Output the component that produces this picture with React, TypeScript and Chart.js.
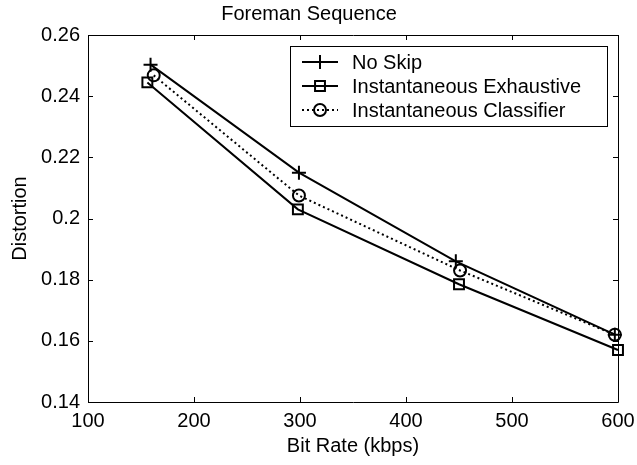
import React, { useEffect, useRef } from 'react';
import { Chart, registerables } from 'chart.js';

Chart.register(...registerables);

// ---- data ----
const seriesNames = ['No Skip', 'Instantaneous Exhaustive', 'Instantaneous Classifier'];
const bitRateNoSkip = [159, 299, 447, 597];
const distNoSkip = [0.2503, 0.215, 0.186, 0.162];
const bitRateExhaustive = [156, 298, 450, 600];
const distExhaustive = [0.2445, 0.203, 0.1785, 0.157];
const bitRateClassifier = [162, 299, 451, 597];
const distClassifier = [0.2468, 0.2075, 0.183, 0.162];
const xTicks = [100, 200, 300, 400, 500, 600];
const yTicks = [0.14, 0.16, 0.18, 0.2, 0.22, 0.24, 0.26];
const titleText = 'Foreman Sequence';
const xLabel = 'Bit Rate (kbps)';
const yLabel = 'Distortion';

const FONT = "'Liberation Sans', Arial, Helvetica, sans-serif";
const FS = 20;

const toPts = (xs: number[], ys: number[]) => xs.map((x, i) => ({ x, y: ys[i] }));

const framePlugin = {
  id: 'matlabFrame',
  afterDatasetsDraw(chart: any) {
    const { ctx, chartArea: a, scales } = chart;
    const xs = scales.x;
    const ys = scales.y;
    ctx.save();
    ctx.strokeStyle = '#000';
    ctx.lineWidth = 1;
    ctx.beginPath();
    ctx.rect(Math.round(a.left) + 0.5, Math.round(a.top) + 0.5, Math.round(a.right - a.left), Math.round(a.bottom - a.top));
    ctx.stroke();
    const tl = 5;
    ctx.beginPath();
    xs.ticks.forEach((t: any) => {
      const px = Math.round(xs.getPixelForValue(t.value)) + 0.5;
      ctx.moveTo(px, a.bottom);
      ctx.lineTo(px, a.bottom - tl);
      ctx.moveTo(px, a.top);
      ctx.lineTo(px, a.top + tl);
    });
    ys.ticks.forEach((t: any) => {
      const py = Math.round(ys.getPixelForValue(t.value)) + 0.5;
      ctx.moveTo(a.left, py);
      ctx.lineTo(a.left + tl, py);
      ctx.moveTo(a.right, py);
      ctx.lineTo(a.right - tl, py);
    });
    ctx.stroke();

    // legend
    const boxL = a.right - 328;
    const boxT = a.top + 11;
    const boxW = 317;
    const rowH = 24;
    const boxH = rowH * chart.data.datasets.length + 8;
    ctx.fillStyle = '#fff';
    ctx.fillRect(boxL, boxT, boxW, boxH);
    ctx.lineWidth = 1;
    ctx.strokeStyle = '#000';
    ctx.strokeRect(Math.round(boxL) + 0.5, Math.round(boxT) + 0.5, boxW, boxH);
    chart.data.datasets.forEach((ds: any, i: number) => {
      const cy = boxT + 16 + i * rowH;
      const x0 = boxL + 12;
      const x1 = boxL + 48;
      const cx = (x0 + x1) / 2;
      ctx.save();
      ctx.strokeStyle = '#000';
      ctx.lineWidth = ds.borderWidth;
      ctx.setLineDash(ds.borderDash || []);
      ctx.beginPath();
      ctx.moveTo(x0, cy);
      ctx.lineTo(x1, cy);
      ctx.stroke();
      ctx.setLineDash([]);
      ctx.lineWidth = ds.pointBorderWidth;
      const r = ds.pointRadius;
      ctx.beginPath();
      if (ds.pointStyle === 'cross') {
        ctx.moveTo(cx - r, cy);
        ctx.lineTo(cx + r, cy);
        ctx.moveTo(cx, cy - r);
        ctx.lineTo(cx, cy + r);
      } else if (ds.pointStyle === 'rect') {
        const s = Math.SQRT1_2 * r;
        ctx.rect(cx - s, cy - s, 2 * s, 2 * s);
      } else {
        ctx.arc(cx, cy, r, 0, Math.PI * 2);
      }
      ctx.stroke();
      ctx.restore();
      ctx.fillStyle = '#000';
      ctx.font = `${FS}px ${FONT}`;
      ctx.textBaseline = 'middle';
      ctx.textAlign = 'left';
      ctx.fillText(ds.label, boxL + 62, cy + 1);
    });
    ctx.restore();
  },
};

const bgPlugin = {
  id: 'whiteBg',
  beforeDraw(chart: any) {
    const { ctx, width, height } = chart;
    ctx.save();
    ctx.fillStyle = '#fff';
    ctx.fillRect(0, 0, width, height);
    ctx.restore();
  },
};

export default function App() {
  const ref = useRef<HTMLCanvasElement | null>(null);
  useEffect(() => {
    document.body.style.margin = '0';
    const canvas = ref.current;
    if (!canvas) return;
    const common = {
      borderColor: '#000',
      pointBorderColor: '#000',
      pointBackgroundColor: 'rgba(0,0,0,0)',
      borderWidth: 2,
      pointBorderWidth: 2,
      fill: false,
      tension: 0,
      clip: false,
    };
    const chart = new Chart(canvas, {
      type: 'line',
      data: {
        datasets: [
          { ...common, label: seriesNames[0], data: toPts(bitRateNoSkip, distNoSkip), pointStyle: 'cross', pointRadius: 7 },
          { ...common, label: seriesNames[1], data: toPts(bitRateExhaustive, distExhaustive), pointStyle: 'rect', pointRadius: 7 },
          { ...common, label: seriesNames[2], data: toPts(bitRateClassifier, distClassifier), pointStyle: 'circle', pointRadius: 6, borderDash: [2, 3] },
        ] as any,
      },
      options: {
        animation: false,
        responsive: false,
        devicePixelRatio: 1,
        layout: { padding: { left: 0, right: 19, top: 0, bottom: 0 } },
        plugins: {
          legend: { display: false },
          tooltip: { enabled: false },
          title: {
            display: true,
            text: titleText,
            color: '#000',
            font: { family: FONT, size: FS, weight: 'normal' },
            padding: { top: 2, bottom: 9 },
          },
        },
        scales: {
          x: {
            type: 'linear',
            min: 100,
            max: 600,
            grid: { display: false, drawTicks: false },
            border: { display: false },
            afterBuildTicks: (s: any) => { s.ticks = xTicks.map((v) => ({ value: v })); },
            afterFit: (s: any) => { s.height = 63; s.paddingLeft = 0; s.paddingRight = 0; },
            ticks: {
              color: '#000',
              font: { family: FONT, size: FS },
              padding: 7,
              maxRotation: 0,
              callback: (v: any) => String(v),
            },
            title: {
              display: true,
              text: xLabel,
              color: '#000',
              font: { family: FONT, size: FS },
              padding: { top: 0, bottom: 7 },
            },
          },
          y: {
            type: 'linear',
            min: 0.14,
            max: 0.26,
            grid: { display: false, drawTicks: false },
            border: { display: false },
            afterBuildTicks: (s: any) => { s.ticks = yTicks.map((v) => ({ value: v })); },
            afterFit: (s: any) => { s.width = 88; s.paddingTop = 0; s.paddingBottom = 0; },
            ticks: {
              color: '#000',
              font: { family: FONT, size: FS },
              padding: 8,
              callback: (v: any) => String(Number(Number(v).toFixed(2))),
            },
            title: {
              display: true,
              text: yLabel,
              color: '#000',
              font: { family: FONT, size: FS },
              padding: { top: 8, bottom: 0 },
            },
          },
        },
      } as any,
      plugins: [bgPlugin, framePlugin],
    });
    return () => chart.destroy();
  }, []);
  return (
    <div style={{ position: 'absolute', left: 0, top: 0, width: 637, height: 465 }}>
      <canvas ref={ref} width={637} height={465} style={{ width: 637, height: 465 }} />
    </div>
  );
}
